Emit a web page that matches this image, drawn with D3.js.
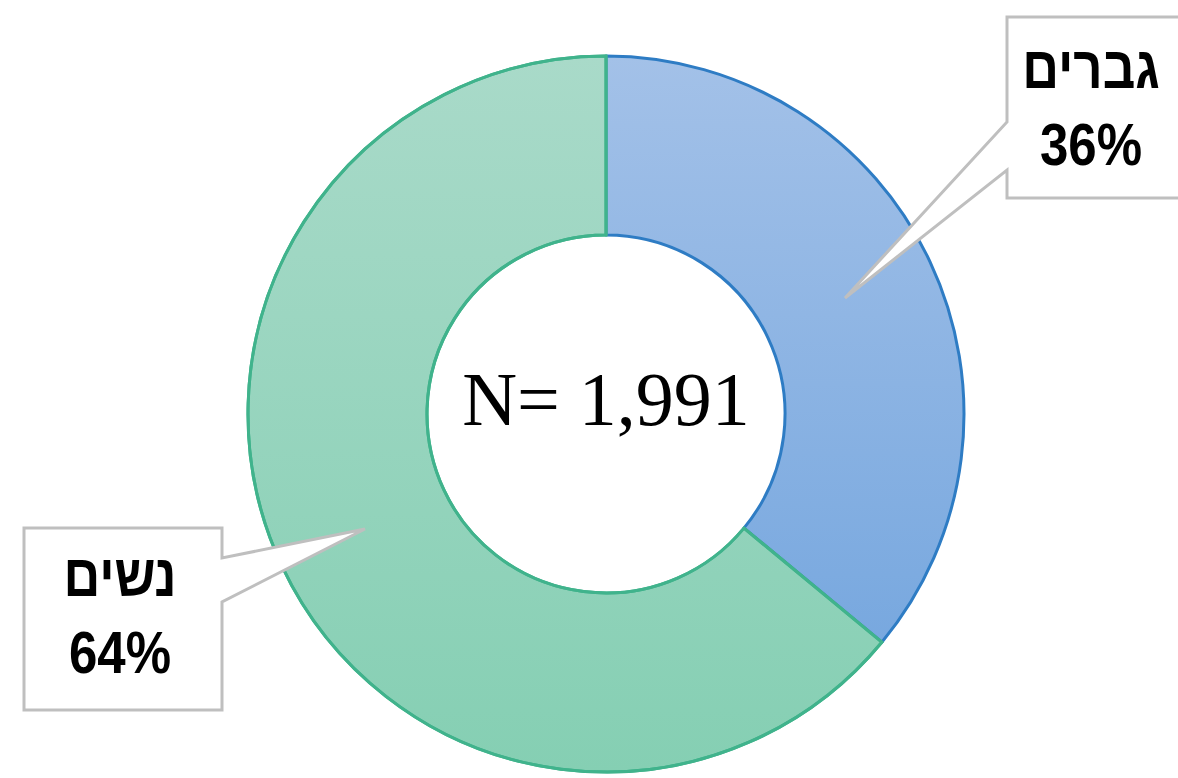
<!DOCTYPE html>
<html>
<head>
<meta charset="utf-8">
<script src="https://cdn.jsdelivr.net/npm/d3@7"></script>
<style>
    body { margin: 0; background: #fff; }
    svg { display: block; }
    .lbl { font-family: "Liberation Sans", "DejaVu Sans", sans-serif; font-weight: bold; fill: #000; }
</style>
</head>
<body>
<svg id="chart"></svg>
<script>
const labels = ['גברים', 'נשים']
const values = [36, 64]
const total = 1991

const width = 1178, height = 778
const cx = 606, cy = 414
const outerR = 358, innerR = 179

const svg = d3.select('#chart')
    .attr('width', width)
    .attr('height', height)

const defs = svg.append('defs')

// vertical gradient per slice (bounding box of each slice)
const grads = [
    { id: 'g-men', top: '#a3c1e8', bottom: '#78a8df' },
    { id: 'g-women', top: '#a9dac9', bottom: '#85cfb3' },
]
grads.forEach(g => {
    const lg = defs.append('linearGradient')
        .attr('id', g.id)
        .attr('x1', 0).attr('x2', 0)
        .attr('y1', 0).attr('y2', 1)
    lg.append('stop').attr('offset', '0%').attr('stop-color', g.top)
    lg.append('stop').attr('offset', '100%').attr('stop-color', g.bottom)
})

const fills = ['url(#g-men)', 'url(#g-women)']
const strokes = ['#2e7cc4', '#40b38c']

const pie = d3.pie().sort(null).value(d => d)
const arcs = pie(values)
const arc = d3.arc().innerRadius(innerR).outerRadius(outerR)

const ring = svg.append('g').attr('transform', `translate(${cx},${cy})`)

ring.selectAll('path')
    .data(arcs)
    .join('path')
    .attr('d', arc)
    .attr('fill', (d, i) => fills[i])
    .attr('stroke', (d, i) => strokes[i])
    .attr('stroke-width', 3)
    .attr('stroke-linejoin', 'round')

// green outline again on top so the shared edges are green
ring.append('path')
    .attr('d', arc(arcs[1]))
    .attr('fill', 'none')
    .attr('stroke', strokes[1])
    .attr('stroke-width', 3)

ring.append('text')
    .attr('x', 0)
    .attr('y', 11)
    .attr('text-anchor', 'middle')
    .style('font-family', '"Liberation Serif", "DejaVu Serif", serif')
    .style('font-size', '76px')
    .text('N= ' + d3.format(',')(total))

// callouts: box + pointer toward the slice
const callouts = [
    { box: [1007, 17, 1200, 198], notch: [122, 170], side: 'left', tip: [845, 298], tx: 1091, ty: [88, 165] },
    { box: [24, 528, 222, 710], notch: [558, 602], side: 'right', tip: [365, 529], tx: 120, ty: [596, 673] },
]

callouts.forEach((c, i) => {
    const [x0, y0, x1, y1] = c.box
    const [n0, n1] = c.notch
    let pts
    if (c.side === 'left') {
        pts = [[x0, y0], [x1, y0], [x1, y1], [x0, y1], [x0, n1], c.tip, [x0, n0]]
    } else {
        pts = [[x0, y0], [x1, y0], [x1, n0], c.tip, [x1, n1], [x1, y1], [x0, y1]]
    }
    svg.append('path')
        .attr('d', d3.line()(pts) + 'Z')
        .attr('fill', '#fff')
        .attr('stroke', '#bfbfbf')
        .attr('stroke-width', 3)
        .attr('stroke-linejoin', 'miter')

    // the original font is narrower, squeeze horizontally
    const t = svg.append('g')
        .attr('transform', `translate(${c.tx},0) scale(0.85,1)`)
    t.append('text')
        .attr('class', 'lbl')
        .attr('x', 0).attr('y', c.ty[0])
        .attr('text-anchor', 'middle')
        .attr('direction', 'rtl')
        .style('font-size', '60px')
        .text(labels[i])
    t.append('text')
        .attr('class', 'lbl')
        .attr('x', 0).attr('y', c.ty[1])
        .attr('text-anchor', 'middle')
        .style('font-size', '60px')
        .text(values[i] + '%')
})
</script>
</body>
</html>
